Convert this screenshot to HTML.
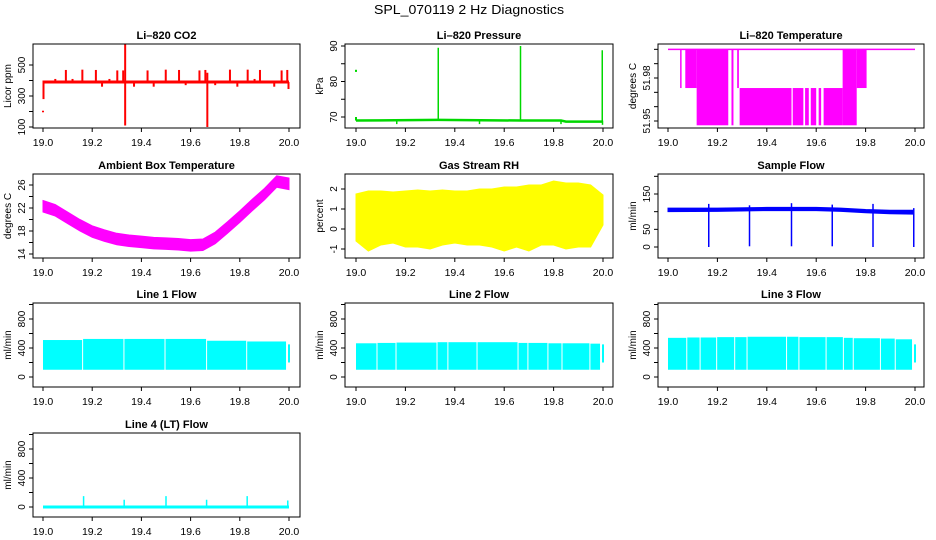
<!DOCTYPE html>
<html><head><meta charset="utf-8"><style>
html,body{margin:0;padding:0;background:#fff}
svg{display:block;font-family:"Liberation Sans",Arial,sans-serif}
</style></head><body>
<svg id="c" width="936" height="540" viewBox="0 0 936 540">
<rect width="936" height="540" fill="#fff"/>
<text x="469" y="14" text-anchor="middle" font-size="13" textLength="190" lengthAdjust="spacingAndGlyphs">SPL_070119  2 Hz Diagnostics</text>
</svg>
<script>
// ---- data ----
const xTicks = [19.0, 19.2, 19.4, 19.6, 19.8, 20.0];
// CO2
const co2Base = 390;
const co2SpikeX = [19.093,19.16,19.215,19.302,19.326,19.425,19.499,19.553,19.636,19.660,19.760,19.832,19.882,19.970,19.993,19.05,19.12,19.24,19.27,19.37,19.45,19.58,19.70,19.79,19.86,19.94];
const co2SpikeV = [468,470,468,465,465,465,470,468,465,468,470,470,468,465,468,410,410,360,410,360,360,370,370,360,410,360];
const co2BigX = [19.334, 19.668, 19.002];
const co2BigHi = [632, 450, 400];
const co2BigLo = [110, 100, 280];
// Pressure
const presBaseX = [19.0, 19.33, 19.67, 19.83, 19.85, 20.0];
const presBaseV = [69.0, 69.2, 69.0, 69.0, 68.7, 68.7];
const presSpikeX = [19.333, 19.666, 19.997];
const presSpikeV = [89.5, 90.0, 88.8];
const presDipX = [19.165, 19.5, 19.83, 19.998];
const presDipV = [68.0, 68.0, 68.0, 67.8];
// Li-820 temperature (segments: start, end, low, high)
const ltTop = 52.00, ltMid = 51.973, ltLow = 51.947;
const ltSegX0 = [19.049,19.07,19.116,19.257,19.28,19.29,19.505,19.555,19.578,19.61,19.63,19.707,19.764];
const ltSegX1 = [19.055,19.116,19.244,19.265,19.287,19.50,19.548,19.57,19.60,19.62,19.707,19.764,19.804];
const ltSegLo = [ltMid,ltMid,ltLow,ltLow,ltMid,ltLow,ltLow,ltLow,ltLow,ltLow,ltLow,ltLow,ltMid];
const ltSegHi = [ltTop,ltTop,ltTop,ltTop,ltTop,ltMid,ltMid,ltMid,ltMid,ltMid,ltMid,ltTop,ltTop];
// Ambient box temperature
const ambX = [19.0,19.05,19.1,19.15,19.2,19.25,19.3,19.35,19.4,19.45,19.5,19.55,19.6,19.65,19.7,19.75,19.8,19.85,19.9,19.95,20.0];
const ambV = [22.3,21.6,20.3,19.0,17.9,17.2,16.6,16.3,16.1,15.9,15.8,15.7,15.5,15.6,16.8,18.6,20.5,22.5,24.4,26.6,26.2];
const ambHalf = 1.0;
// Gas stream RH envelope
const rhX = [19.0,19.05,19.1,19.15,19.2,19.25,19.3,19.35,19.4,19.45,19.5,19.55,19.6,19.65,19.7,19.75,19.8,19.85,19.9,19.95,20.0];
const rhHi = [1.75,1.9,1.9,1.85,1.9,1.95,1.9,1.95,1.9,1.9,2.0,2.0,2.1,2.1,2.2,2.2,2.4,2.3,2.3,2.2,1.7];
const rhLo = [-0.6,-1.1,-0.8,-0.7,-0.9,-0.9,-1.0,-0.8,-0.7,-0.8,-0.8,-0.9,-1.1,-0.9,-1.1,-0.8,-0.8,-1.0,-0.9,-0.9,0.2];
// Sample flow
const sfX = [19.0,19.2,19.4,19.6,19.7,19.8,19.9,19.99];
const sfHi = [110,110,112,112,110,106,104,104];
const sfLo = [100,101,103,103,101,97,94,93];
const sfDipX = [19.165,19.33,19.5,19.665,19.83,19.995];
const sfDipV = [0,2,2,2,0,0];
const sfPeakV = [122,118,124,120,122,110];
// Line flows (band segments between gaps)
const l1Gap = [19.0,19.161,19.329,19.496,19.665,19.828,19.99];
const l1Top = [510,525,525,525,500,490];
const l2Gap = [19.0,19.085,19.162,19.328,19.372,19.49,19.656,19.696,19.777,19.834,19.947,19.99];
const l2Top = [465,470,475,480,480,480,470,470,465,465,460];
const l3Gap = [19.0,19.076,19.13,19.197,19.27,19.32,19.48,19.53,19.64,19.71,19.75,19.86,19.92,19.99];
const l3Top = [540,545,545,550,550,555,555,550,550,540,535,530,520];
const flowLo = 100;
// Line 4 flow
const l4SpikeX = [19.165,19.33,19.5,19.665,19.83,19.995];
const l4SpikeV = [150,100,150,100,150,90];
const l4Base = 0;

// ---- layout ----
const NS='http://www.w3.org/2000/svg';
const svg=document.getElementById('c');
const cols=[{b0:33,b1:300,a:43,b:289},{b0:345,b1:613,a:356,b:603},{b0:658,b1:924,a:668,b:915}];
const rows=[44,174,303,433];
const H=84;
function el(tag,attrs,parent){const e=document.createElementNS(NS,tag);for(const k in attrs)e.setAttribute(k,attrs[k]);(parent||svg).appendChild(e);return e;}

function panel(ci,ri,name,title,ytitle,vA,oA,vB,oB,ticks,labels){
  const c=cols[ci],top=rows[ri];
  const g=el('g',{});
  
  
  const sx=v=>c.a+(v-19)*(c.b-c.a);
  const sy=v=>top+oA+(v-vA)*(oB-oA)/(vB-vA);
  const t=el('text',{x:(c.b0+c.b1)/2,y:top-5,'text-anchor':'middle','font-size':'11','font-weight':'bold'},g);
  t.textContent=title;
  
  
  const yt=el('text',{x:0,y:0,'text-anchor':'middle','font-size':'10',transform:`translate(${c.b0-22},${top+H/2}) rotate(-90)`},g);
  yt.textContent=ytitle;
  
  
  const xa=el('g',{},g);
  
  
  el('line',{x1:sx(19),x2:sx(20),y1:top+H,y2:top+H,stroke:'#000'},xa);
  xTicks.forEach(v=>{
    el('line',{x1:sx(v),x2:sx(v),y1:top+H,y2:top+H+4,stroke:'#000'},xa);
    const l=el('text',{x:sx(v),y:top+H+18,'text-anchor':'middle','font-size':'10.5'},xa);
    l.textContent=v.toFixed(1);
    
    
  });
  const ya=el('g',{},g);
  
  
  ticks.forEach(v=>{
    el('line',{x1:c.b0-4,x2:c.b0,y1:sy(v),y2:sy(v),stroke:'#000'},ya);
  });
  labels.forEach(v=>{
    const l=el('text',{x:0,y:0,'text-anchor':'middle','font-size':'10',transform:`translate(${c.b0-8},${sy(v)}) rotate(-90)`},ya);
    l.textContent=String(v);
    
    
  });
  const data=el('g',{},g);
  
  
  const frame=()=>{const r=el('rect',{x:c.b0,y:top,width:c.b1-c.b0,height:H,fill:'none',stroke:'#000'},g);
    
    };
  return {sx,sy,g:data,frame};
}
function vline(p,x,y1,y2,col,w){return el('line',{x1:p.sx(x),x2:p.sx(x),y1:p.sy(y1),y2:p.sy(y2),stroke:col,'stroke-width':w||1.5},p.g);}
function poly(p,xs,ys,col,w){return el('polyline',{points:xs.map((x,i)=>p.sx(x)+','+p.sy(ys[i])).join(' '),fill:'none',stroke:col,'stroke-width':w||2},p.g);}

// CO2
{const p=panel(0,0,'co2','Li\u2013820 CO2','Licor ppm',100,83,500,21,[100,200,300,400,500],[100,300,500]);
 poly(p,[19.0,20.0],[co2Base,co2Base],'#f00',3);
 co2SpikeX.forEach((x,i)=>vline(p,x,co2Base,co2SpikeV[i],'#f00',2));
 co2BigX.forEach((x,i)=>vline(p,x,co2BigLo[i],co2BigHi[i],'#f00',2));
 vline(p,19.0,195,205,'#f00',2);
 vline(p,19.998,345,390,'#f00',2);
 p.frame();}
// Pressure
{const p=panel(1,0,'pressure','Li\u2013820 Pressure','kPa',70,73,90,2,[70,75,80,85,90],[70,80,90]);
 poly(p,presBaseX,presBaseV,'#00d800',2.5);
 presSpikeX.forEach((x,i)=>vline(p,x,presBaseV[0],presSpikeV[i],'#00d800',1.5));
 presDipX.forEach((x,i)=>vline(p,x,presBaseV[0],presDipV[i],'#00d800',1.5));
 vline(p,19.0,82.7,83.3,'#00d800',2);
 vline(p,19.0,69,70,'#00d800',2);
 p.frame();}
// Li temp
{const p=panel(2,0,'li820-temperature','Li\u2013820 Temperature','degrees C',51.95,77,51.98,34,[51.95,51.96,51.97,51.98,51.99,52.00],['51.95','51.98']);
 poly(p,[19.0,20.0],[ltTop,ltTop],'#f0f',1.5);
 ltSegX0.forEach((x,i)=>{const r=el('rect',{x:p.sx(x),y:p.sy(ltSegHi[i]),width:Math.max(1.5,p.sx(ltSegX1[i])-p.sx(x)),height:p.sy(ltSegLo[i])-p.sy(ltSegHi[i]),fill:'#f0f'},p.g);
   
   });
 p.frame();}
// Ambient
{const p=panel(0,1,'ambient-temperature','Ambient Box Temperature','degrees C',14,80,26,11,[14,16,18,20,22,24,26],[14,18,22,26]);
 const pts=ambX.map((x,i)=>p.sx(x)+','+p.sy(ambV[i]+ambHalf)).concat(ambX.slice().reverse().map((x,j)=>{const i=ambX.length-1-j;return p.sx(x)+','+p.sy(ambV[i]-ambHalf);}));
 const pg=el('polygon',{points:pts.join(' '),fill:'#f0f',stroke:'#f0f','stroke-width':1},p.g);
 
 
 p.frame();}
// RH
{const p=panel(1,1,'gas-stream-rh','Gas Stream RH','percent',-1,75,2,15,[-1,0,1,2],[-1,0,1,2]);
 const pts=rhX.map((x,i)=>p.sx(x)+','+p.sy(rhHi[i])).concat(rhX.slice().reverse().map((x,j)=>p.sx(x)+','+p.sy(rhLo[rhX.length-1-j])));
 const pg=el('polygon',{points:pts.join(' '),fill:'#ff0',stroke:'#ff0','stroke-width':1},p.g);
 
 
 p.frame();}
// Sample flow
{const p=panel(2,1,'sample-flow','Sample Flow','ml/min',0,73,150,20,[0,50,100,150,200],[0,50,150]);
 const pts=sfX.map((x,i)=>p.sx(x)+','+p.sy(sfHi[i])).concat(sfX.slice().reverse().map((x,j)=>p.sx(x)+','+p.sy(sfLo[sfX.length-1-j])));
 const pg=el('polygon',{points:pts.join(' '),fill:'#00f',stroke:'#00f','stroke-width':1},p.g);
 
 
 sfDipX.forEach((x,i)=>vline(p,x,sfDipV[i],sfPeakV[i],'#00f',1.5));
 p.frame();}
// Line flows
function flowPanel(ci,ri,name,title,gaps,tops){
 const p=panel(ci,ri,name,title,'ml/min',0,74,800,16,[0,200,400,600,800,1000],[0,400,800]);
 tops.forEach((t,i)=>{const x0=p.sx(gaps[i])+(i?0.5:0),x1=p.sx(gaps[i+1])-0.5;
  const r=el('rect',{x:x0,y:p.sy(t),width:x1-x0,height:p.sy(flowLo)-p.sy(t),fill:'#0ff'},p.g);
  
  });
 vline(p,20.0,200,450,'#0ff',2);
 p.frame();}
flowPanel(0,2,'line1-flow','Line 1 Flow',l1Gap,l1Top);
flowPanel(1,2,'line2-flow','Line 2 Flow',l2Gap,l2Top);
flowPanel(2,2,'line3-flow','Line 3 Flow',l3Gap,l3Top);
// Line 4
{const p=panel(0,3,'line4-flow','Line 4 (LT) Flow','ml/min',0,74,800,16,[0,200,400,600,800,1000],[0,400,800]);
 poly(p,[19.0,20.0],[l4Base,l4Base],'#0ff',3);
 l4SpikeX.forEach((x,i)=>vline(p,x,l4Base,l4SpikeV[i],'#0ff',1.5));
 p.frame();}
</script>
</body></html>
